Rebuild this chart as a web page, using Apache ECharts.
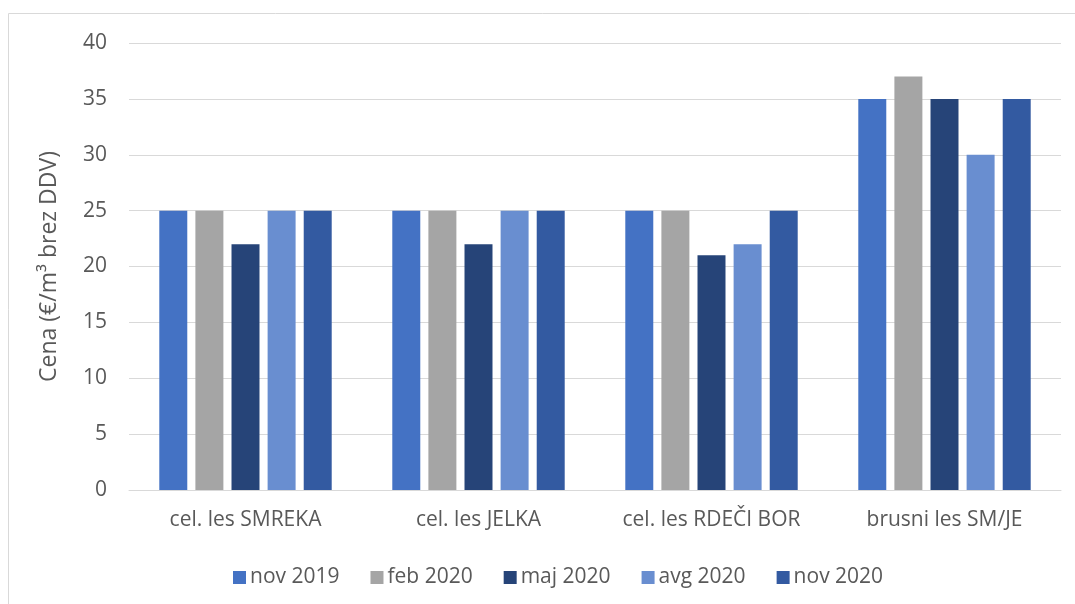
<!DOCTYPE html>
<html>
<head>
<meta charset="utf-8">
<script src="https://cdn.jsdelivr.net/npm/echarts@6/dist/echarts.min.js"></script>
<style>
html,body{margin:0;padding:0;background:#fff;}
#c{width:1075px;height:604px;}
</style>
</head>
<body>
<div id="c"></div>
<script>
const categories = ['cel. les SMREKA', 'cel. les JELKA', 'cel. les RDEČI BOR', 'brusni les SM/JE'];
const seriesNames = ['nov 2019', 'feb 2020', 'maj 2020', 'avg 2020', 'nov 2020'];
const nov2019 = [25, 25, 25, 35];
const feb2020 = [25, 25, 25, 37];
const maj2020 = [22, 22, 21, 35];
const avg2020 = [25, 25, 22, 30];
const nov2020 = [25, 25, 25, 35];
const colors = ['#4472C4', '#A5A5A5', '#264478', '#698ED0', '#335AA1'];
const values = [nov2019, feb2020, maj2020, avg2020, nov2020];

const font = 'Open Sans, Noto Sans, sans-serif';
const chart = echarts.init(document.getElementById('c'));
chart.setOption({
  animation: false,
  color: colors,
  textStyle: { fontFamily: font },
  graphic: [{
    type: 'rect',
    shape: { x: 8.5, y: 13.5, width: 1100, height: 620 },
    style: { fill: 'none', stroke: '#d9d9d9', lineWidth: 1 },
    silent: true
  }],
  grid: { left: 129, right: 14, top: 43, bottom: 114 },
  legend: {
    left: 228, top: 562,
    itemWidth: 13, itemHeight: 13, itemGap: 31,
    icon: 'rect',
    textStyle: { fontSize: 21, color: '#595959', fontFamily: font, padding: [0, 0, 0, -1] },
    data: seriesNames
  },
  xAxis: {
    type: 'category',
    data: categories,
    axisLine: { lineStyle: { color: '#d9d9d9', width: 1 } },
    axisTick: { show: false },
    axisLabel: { fontSize: 21, color: '#595959', margin: 20, fontFamily: font }
  },
  yAxis: {
    type: 'value',
    min: 0, max: 40, interval: 5,
    name: 'Cena (€/m³ brez DDV)',
    nameLocation: 'middle',
    nameGap: 68,
    nameTextStyle: { fontSize: 23, color: '#595959', fontFamily: font },
    axisLabel: { fontSize: 21, color: '#595959', margin: 22, fontFamily: font },
    splitLine: { lineStyle: { color: '#d9d9d9', width: 1 } },
    axisLine: { show: false },
    axisTick: { show: false }
  },
  series: seriesNames.map((n, i) => ({
    name: n,
    type: 'bar',
    data: values[i],
    barGap: '29%',
    barCategoryGap: '26%',
    itemStyle: { color: colors[i] }
  }))
});
</script>
</body>
</html>
